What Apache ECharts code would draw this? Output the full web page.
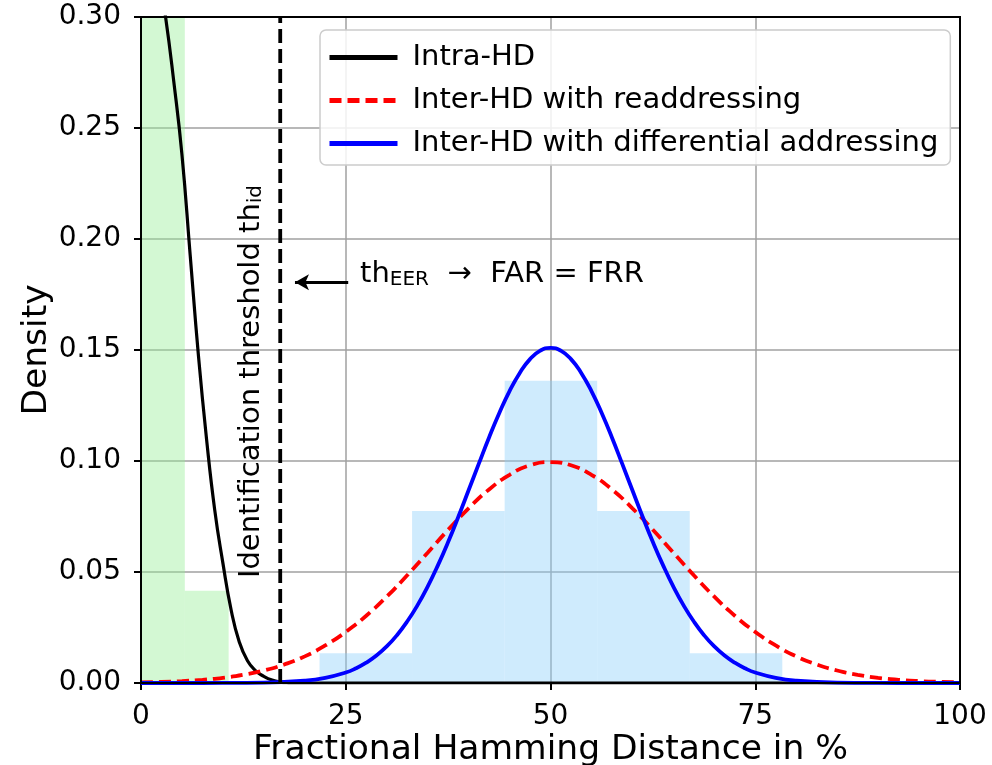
<!DOCTYPE html>
<html>
<head>
<meta charset="utf-8">
<script src="https://cdn.jsdelivr.net/npm/echarts@6/dist/echarts.min.js"></script>
<style>
  html, body { margin: 0; padding: 0; background: #fff; }
  #chart { width: 992px; height: 765px; }
</style>
</head>
<body>
<div id="chart"></div>
<script>
// histograms (bin edges + bar heights)
const intraEdges = [0, 5.35, 10.7];
const intraHeights = [0.5, 0.0416];
const interEdges = [21.8, 33.1, 44.4, 55.7, 67.0, 78.3];
const interHeights = [0.0134, 0.0775, 0.1362, 0.0775, 0.0134];

// fitted density curves
const intraX = [0, 1, 2, 3, 4, 5, 6, 7, 8, 9, 10, 11, 12, 13, 14, 15, 16, 17, 18, 20, 100];
const intraY = [0.340, 0.336, 0.323, 0.300, 0.271, 0.238, 0.193, 0.148, 0.110, 0.078, 0.054,
  0.033, 0.0185, 0.0100, 0.0055, 0.0030, 0.0013, 0.0004, 0.0001, 0, 0];

const readdrX = [0, 2.5, 5, 7.5, 10, 12.5, 15, 17.5, 20, 22.5, 25, 27.5, 30, 32.5, 35, 37.5, 40,
  42.5, 45, 47.5, 50, 52.5, 55, 57.5, 60, 62.5, 65, 67.5, 70, 72.5, 75, 77.5, 80, 82.5, 85,
  87.5, 90, 92.5, 95, 97.5, 100];
const readdrY = [0.00028, 0.00050, 0.00086, 0.00144, 0.00233, 0.00368, 0.00562, 0.00835, 0.0120,
  0.0169, 0.0230, 0.0303, 0.0389, 0.0485, 0.0587, 0.0690, 0.0787, 0.0872, 0.0938, 0.0981, 0.0995,
  0.0981, 0.0938, 0.0872, 0.0787, 0.0690, 0.0587, 0.0485, 0.0389, 0.0303, 0.0230, 0.0169, 0.0120,
  0.00835, 0.00562, 0.00368, 0.00233, 0.00144, 0.00086, 0.00050, 0.00028];

const diffX = [0, 5, 10, 15, 20, 22.5, 25, 26.25, 27.5, 28.75, 30, 31.25, 32.5, 33.75, 35, 36.25,
  37.5, 38.75, 40, 41.25, 42.5, 43.75, 45, 46.25, 47.5, 48.75, 50, 51.25, 52.5, 53.75, 55, 56.25,
  57.5, 58.75, 60, 61.25, 62.5, 63.75, 65, 66.25, 67.5, 68.75, 70, 71.25, 72.5, 73.75, 75, 77.5,
  80, 85, 90, 95, 100];
const diffY = [0, 0, 0.00002, 0.00017, 0.00103, 0.00229, 0.00473, 0.00663, 0.00914, 0.01237,
  0.01646, 0.02154, 0.0277, 0.03496, 0.0434, 0.05298, 0.0635, 0.0749, 0.0868, 0.09879, 0.1106,
  0.12161, 0.1315, 0.13968, 0.1459, 0.1497, 0.1510, 0.1497, 0.1459, 0.13968, 0.1315, 0.12161,
  0.1106, 0.09879, 0.0868, 0.0749, 0.0635, 0.05298, 0.0434, 0.03496, 0.0277, 0.02154, 0.01646,
  0.01237, 0.00914, 0.00663, 0.00473, 0.00229, 0.00103, 0.00017, 0.00002, 0, 0];

const thresholdX = 17;

const FONT = 'DejaVu Sans';
const chart = echarts.init(document.getElementById('chart'));

function zip(xs, ys) {
  return xs.map((x, i) => [x, ys[i]]);
}
function bins(edges, heights) {
  return heights.map((h, i) => [edges[i], edges[i + 1], h]);
}
function histSeries(name, edges, heights, color) {
  return {
    name: name,
    type: 'custom',
    z: 1,
    silent: true,
    data: bins(edges, heights),
    renderItem: function (params, api) {
      const p0 = api.coord([api.value(0), api.value(2)]);
      const p1 = api.coord([api.value(1), 0]);
      const rect = echarts.graphic.clipRectByRect(
        { x: p0[0], y: p0[1], width: p1[0] - p0[0], height: p1[1] - p0[1] },
        params.coordSys
      );
      if (!rect) return;
      return { type: 'rect', shape: rect, style: { fill: color } };
    }
  };
}

const subStyle = { fontSize: 20, lineHeight: 16, verticalAlign: 'bottom', fontFamily: FONT };

chart.setOption({
  animation: false,
  textStyle: { fontFamily: FONT },
  grid: {
    left: 141, top: 17, width: 819, height: 666, outerBoundsMode: 'none',
    show: true, borderColor: '#000', borderWidth: 2, z: 5
  },
  xAxis: {
    type: 'value', min: 0, max: 100, interval: 25,
    name: 'Fractional Hamming Distance in %', nameLocation: 'middle', nameGap: 50, nameMoveOverlap: false,
    nameTextStyle: { fontSize: 34.5, color: '#000', fontFamily: FONT },
    axisLine: { show: true, onZero: false, lineStyle: { color: '#000', width: 2 } },
    axisTick: { show: true, length: 7, lineStyle: { color: '#000', width: 2 } },
    axisLabel: { fontSize: 28, color: '#000', margin: 20, fontFamily: FONT },
    splitLine: { show: true, lineStyle: { color: '#a0a0a0', width: 1.5 } }
  },
  yAxis: {
    type: 'value', min: 0, max: 0.3, interval: 0.05,
    name: 'Density', nameLocation: 'middle', nameGap: 86, nameRotate: 90, nameMoveOverlap: false,
    nameTextStyle: { fontSize: 34.5, color: '#000', fontFamily: FONT },
    axisLine: { show: true, lineStyle: { color: '#000', width: 2 } },
    axisTick: { show: true, length: 7, lineStyle: { color: '#000', width: 2 } },
    axisLabel: { fontSize: 28, color: '#000', margin: 20, fontFamily: FONT, formatter: v => v.toFixed(2) },
    splitLine: { show: true, lineStyle: { color: '#a0a0a0', width: 1.5 } }
  },
  legend: {
    left: 320, top: 30, orient: 'vertical',
    itemWidth: 68, itemHeight: 14, itemGap: 14,
    padding: [13, 12, 7, 7],
    backgroundColor: 'rgba(255,255,255,0.85)', borderColor: '#cccccc', borderWidth: 1.5, borderRadius: 6,
    itemStyle: { opacity: 0 },
    lineStyle: { width: 5 },
    textStyle: { fontSize: 29, color: '#000', fontFamily: FONT, lineHeight: 28, padding: [0, 0, 0, 10] },
    data: ['Intra-HD', 'Inter-HD with readdressing', 'Inter-HD with differential addressing']
  },
  series: [
    histSeries('intraHist', intraEdges, intraHeights, 'rgba(144,238,144,0.4)'),
    histSeries('interHist', interEdges, interHeights, 'rgba(135,206,250,0.4)'),
    {
      name: 'Intra-HD', type: 'line', z: 3, smooth: true, symbol: 'none',
      lineStyle: { color: '#000', width: 3.2 }, itemStyle: { color: '#000' },
      data: zip(intraX, intraY)
    },
    {
      name: 'Inter-HD with readdressing', type: 'line', z: 3, smooth: true, symbol: 'none',
      lineStyle: { color: '#ff0000', width: 3.8, type: [12, 6] }, itemStyle: { color: '#ff0000' },
      data: zip(readdrX, readdrY)
    },
    {
      name: 'Inter-HD with differential addressing', type: 'line', z: 4, smooth: true, symbol: 'none',
      lineStyle: { color: '#0000ff', width: 3.8 }, itemStyle: { color: '#0000ff' },
      data: zip(diffX, diffY)
    },
    {
      name: 'threshold', type: 'line', z: 4, symbol: 'none', silent: true,
      lineStyle: { color: '#000', width: 3.8, type: [14, 6] },
      data: [[thresholdX, 0], [thresholdX, 0.3]],
      markLine: {
        silent: true, symbol: ['none', 'arrow'], symbolSize: [12, 14],
        lineStyle: { color: '#000', width: 3, type: 'solid' },
        label: { show: false },
        data: [[{ coord: [25.3, 0.1805] }, { coord: [18.8, 0.1805] }]]
      },
      markPoint: {
        silent: true, symbolSize: 0,
        data: [
          {
            coord: [13.5, 0.1358],
            label: {
              show: true, position: 'inside', rotate: 90, color: '#000', fontSize: 29, fontFamily: FONT,
              formatter: 'Identification threshold th{sub|id}',
              rich: { sub: subStyle }
            }
          },
          {
            coord: [26.75, 0.1838],
            label: {
              show: true, position: 'right', distance: 0, color: '#000', fontSize: 29, fontFamily: FONT,
              formatter: 'th{sub|EER}  \u2192  FAR = FRR',
              rich: { sub: subStyle }
            }
          }
        ]
      }
    }
  ]
});
</script>
</body>
</html>
